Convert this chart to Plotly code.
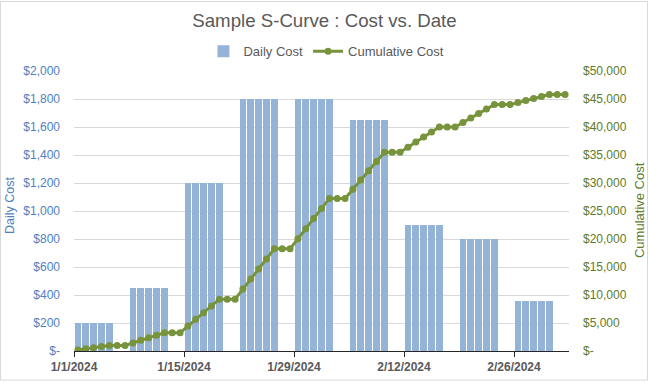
import pandas as pd
import numpy as np
import plotly.graph_objects as go

# Weekly daily-cost rates (Mon-Fri work days), 9 weeks starting Mon 1/1/2024
week_starts = ["2024-01-01", "2024-01-08", "2024-01-15", "2024-01-22", "2024-01-29",
               "2024-02-05", "2024-02-12", "2024-02-19", "2024-02-26"]
weekly_daily_rate = [200, 450, 1200, 1800, 1800, 1650, 900, 800, 360]

dates = pd.date_range("2024-01-01", "2024-03-03", freq="D")
rate_by_week = dict(zip(pd.to_datetime(week_starts), weekly_daily_rate))
daily_cost = []
for d in dates:
    wk = d - pd.Timedelta(days=d.weekday())
    daily_cost.append(rate_by_week[wk] if d.weekday() < 5 else 0)
cumulative_cost = list(np.cumsum(daily_cost))

x_mid = dates + pd.Timedelta(hours=12)

left_ticks = list(range(0, 2001, 200))
left_text = ["$-"] + [f"${v:,}" for v in left_ticks[1:]]
right_ticks = list(range(0, 50001, 5000))
right_text = ["$-"] + [f"${v:,}" for v in right_ticks[1:]]
x_ticks = ["2024-01-01", "2024-01-15", "2024-01-29", "2024-02-12", "2024-02-26"]
x_text = ["1/1/2024", "1/15/2024", "1/29/2024", "2/12/2024", "2/26/2024"]

BAR = "#95B3D7"
LINE = "#77933C"
LEFT_TXT = "#4F81BD"
RIGHT_TXT = "#5E7A2A"
GRAY = "#595959"
FONT = "Liberation Sans, Arial, sans-serif"

fig = go.Figure()
fig.add_trace(go.Bar(
    x=x_mid, y=daily_cost, name="Daily Cost", marker_color=BAR,
    marker_line_width=0, width=0.86 * 86400000, yaxis="y"))
fig.add_trace(go.Scatter(
    x=x_mid, y=cumulative_cost, name="Cumulative Cost", mode="lines+markers",
    line=dict(color=LINE, width=3), marker=dict(color=LINE, size=7), yaxis="y2"))

L, R, T, B = 74, 80, 71, 31
W, H = 649, 386
pw, ph = W - L - R, H - T - B

fig.update_layout(
    width=W, height=H, margin=dict(l=L, r=R, t=T, b=B),
    paper_bgcolor="white", plot_bgcolor="white",
    font=dict(family=FONT, size=12, color=GRAY),
    title=dict(text="Sample S-Curve : Cost vs. Date", x=0.5, xref="container",
               y=1 - 20 / H, yanchor="middle", font=dict(size=18.67, color=GRAY)),
    showlegend=True,
    legend=dict(orientation="h", x=0.51, xanchor="center", y=(H - B - 51) / ph,
                yanchor="middle", font=dict(size=13, color=GRAY),
                bgcolor="rgba(0,0,0,0)", itemwidth=30, traceorder="normal"),
    bargap=0,
    xaxis=dict(type="date", range=["2024-01-01", "2024-03-04"],
               tickvals=x_ticks, ticktext=x_text,
               tickfont=dict(size=12, color=GRAY, family=FONT, weight="bold"),
               showgrid=False, showline=True, linecolor="#262626", linewidth=1,
               ticks="outside", ticklen=5, tickcolor="#262626"),
    yaxis=dict(range=[0, 2000], tickvals=left_ticks, ticktext=left_text,
               tickfont=dict(size=12, color=LEFT_TXT), showgrid=True,
               gridcolor="#D9D9D9", gridwidth=1, zeroline=False,
               ticks="", ticklabelstandoff=13, fixedrange=True),
    yaxis2=dict(range=[0, 50000], tickvals=right_ticks, ticktext=right_text,
                overlaying="y", side="right", showgrid=False, zeroline=False,
                tickfont=dict(size=12, color=RIGHT_TXT), ticks="",
                ticklabelstandoff=13),
    annotations=[
        dict(text="Daily Cost", xref="paper", yref="paper", x=(10 - L) / pw,
             y=(H - B - 208) / ph, textangle=-90, showarrow=False,
             font=dict(size=12.5, color=LEFT_TXT), xanchor="center", yanchor="middle"),
        dict(text="Cumulative Cost", xref="paper", yref="paper", x=(639 - L) / pw,
             y=(H - B - 212) / ph, textangle=-90, showarrow=False,
             font=dict(size=13, color=RIGHT_TXT), xanchor="center", yanchor="middle"),
    ],
    shapes=[dict(type="rect", xref="paper", yref="paper",
                 x0=(0.5 - L) / pw, x1=(W - 1.5 - L) / pw,
                 y0=(H - B - (H - 1.5)) / ph, y1=(H - B - 0.5) / ph,
                 line=dict(color="#D9D9D9", width=1), layer="below")],
)

fig.write_html("out.html", config={"displayModeBar": False},
               post_script="document.body.style.margin='0';document.body.style.overflow='hidden';")
